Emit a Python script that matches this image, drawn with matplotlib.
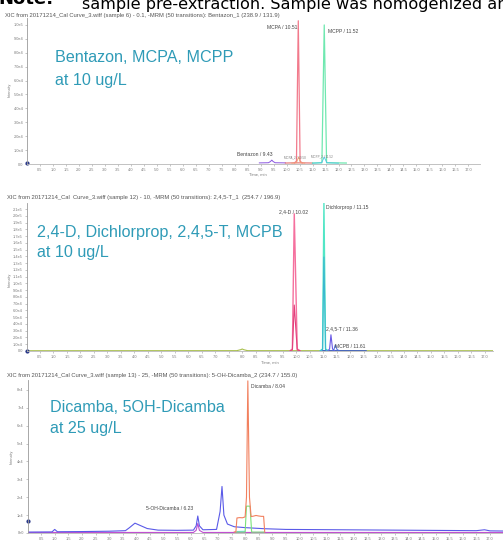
import numpy as np
import matplotlib
matplotlib.use("Agg")
import matplotlib.pyplot as plt

plt.rcParams['font.family'] = ['Liberation Sans', 'DejaVu Sans']

W, H = 503, 540

# ─────────────────────────────────────────────
# Data
# ─────────────────────────────────────────────

# Panel 1: Bentazon, MCPA, MCPP (10 ug/L)
bent_t = [8.95, 9.30, 9.38, 9.43, 9.48, 9.56, 9.95]
bent_i = [800, 900, 1800, 2800, 1800, 900, 800]
mcpa_red_t = [9.95, 10.30, 10.60, 11.00]
mcpa_red_i = [700, 800, 800, 700]
mcpa_t = [10.30, 10.38, 10.45, 10.52, 10.60]
mcpa_i = [800, 2000, 103000, 2000, 800]
mcpa2_t = [10.20, 10.38, 10.46, 10.54, 10.70]
mcpa2_i = [600, 900, 5000, 900, 600]
mcpp_t = [11.00, 11.36, 11.45, 11.54, 12.30]
mcpp_i = [700, 900, 100000, 900, 700]
mcpp2_t = [11.00, 11.35, 11.45, 11.55, 12.00]
mcpp2_i = [600, 900, 5000, 900, 600]

# Panel 2: 2,4-D, Dichlorprop, 2,4,5-T, MCPB (10 ug/L)
base2_t = [0.0, 7.80, 7.95, 8.00, 8.05, 8.20, 17.3]
base2_i = [400, 500, 2000, 3000, 2000, 500, 400]
red2_t = [12.3, 17.3]
red2_i = [300, 300]
d24_t = [9.78, 9.86, 9.93, 10.04, 10.14]
d24_i = [500, 3000, 203000, 3000, 500]
d24b_i = [500, 1500, 68000, 1500, 500]
dcp_t = [10.90, 10.98, 11.03, 11.09, 11.18]
dcp_i = [500, 3000, 219000, 3000, 500]
dcpb_i = [500, 2000, 139000, 2000, 500]
t245_t = [11.18, 11.24, 11.29, 11.35, 11.42]
t245_i = [600, 3000, 24000, 3000, 600]
mcpb_t = [11.35, 11.40, 11.45, 11.52, 11.60]
mcpb_i = [600, 2000, 9000, 2000, 600]
blue2_t = [10.9, 12.6]
blue2_i = [600, 500]

# Panel 3: Dicamba, 5OH-Dicamba (25 ug/L)
blue3_t = [0.0, 0.90, 1.00, 1.10, 2.0, 3.0, 3.60, 3.75, 3.95, 4.10, 4.40, 4.80,
           5.5, 6.10, 6.20, 6.26, 6.32, 6.45, 6.95, 7.08, 7.15, 7.22, 7.35, 7.60,
           8.0, 8.7, 9.5, 10.5, 11.5, 12.5, 13.5, 14.5, 15.5, 16.5, 16.8, 17.0, 17.5]
blue3_i = [500, 600, 2000, 700, 800, 1000, 1300, 3000, 5500, 4500, 2500, 1600,
           1500, 1600, 4000, 9500, 4000, 1800, 2000, 12000, 26000, 10000, 5000, 3500,
           3000, 2400, 2000, 1900, 1800, 1700, 1600, 1500, 1400, 1300, 1800, 1200, 1100]
mag3_t = [0.0, 6.10, 6.20, 6.26, 6.32, 6.45, 17.5]
mag3_i = [300, 300, 1500, 5300, 1500, 300, 300]
dic_t = [7.60, 7.66, 7.70, 7.80, 7.90, 8.00, 8.05, 8.10, 8.16, 8.22, 8.30, 8.40, 8.50, 8.60, 8.68, 8.72]
dic_i = [600, 600, 8400, 8600, 8500, 9000, 20000, 85000, 20000, 9200, 9400, 9800, 9500, 9300, 9300, 600]
green3_t = [7.65, 8.00, 8.05, 8.10, 8.18, 8.24, 8.70]
green3_i = [500, 500, 15000, 15000, 15000, 500, 500]
cyan3_t = [7.70, 8.00]
cyan3_i = [900, 1000]

titles = [
    "XIC from 20171214_Cal Curve_3.wiff (sample 6) - 0.1, -MRM (50 transitions): Bentazon_1 (238.9 / 131.9)",
    "XIC from 20171214_Cal  Curve_3.wiff (sample 12) - 10, -MRM (50 transitions): 2,4,5-T_1  (254.7 / 196.9)",
    "XIC from 20171214_Cal Curve_3.wiff (sample 13) - 25, -MRM (50 transitions): 5-OH-Dicamba_2 (234.7 / 155.0)",
]
big_labels = [
    ("Bentazon, MCPA, MCPP", "at 10 ug/L"),
    ("2,4-D, Dichlorprop, 2,4,5-T, MCPB", "at 10 ug/L"),
    ("Dicamba, 5OH-Dicamba", "at 25 ug/L"),
]

TEAL = '#2f9bb7'
GREY = '#7a7a7a'
BIG = 11.6
TITLE = 4.2

fig = plt.figure(figsize=(W / 100, H / 100), dpi=100)
fig.patch.set_facecolor('white')


def px_axes(left, top, right, bottom):
    return fig.add_axes([left / W, 1 - bottom / H, (right - left) / W, (bottom - top) / H])


def style(ax, xmax, ymax, yticks, ylabels):
    ax.set_xlim(0, xmax)
    ax.set_ylim(0, ymax)
    for s in ['top', 'right']:
        ax.spines[s].set_visible(False)
    ax.spines['left'].set_color('#9a9a9a')
    ax.spines['bottom'].set_color('#b8b8b8')
    ax.spines['left'].set_linewidth(0.6)
    ax.spines['bottom'].set_linewidth(0.6)
    xt = np.arange(0.5, 17.01, 0.5)
    ax.set_xticks(xt)
    ax.set_xticklabels([f"{v:.1f}" for v in xt])
    ax.set_yticks(yticks)
    ax.set_yticklabels(ylabels)
    ax.tick_params(axis='both', labelsize=2.8, labelcolor=GREY, color='#9a9a9a',
                   length=1.5, width=0.4, pad=1.2)
    ax.set_facecolor('none')


def pix_text(x, y, s, **kw):
    fig.text(x / W, 1 - y / H, s, **kw)


# Document text cut off at the top
pix_text(-2, 4.5, "Note:", fontsize=13, fontweight='bold', family='DejaVu Sans', va='baseline')
pix_text(82, 8.5, "sample pre-extraction. Sample was homogenized and", fontsize=11.6,
         family='DejaVu Sans', va='baseline')

# ─────────────────────────────────────────────
# Panel 1
# ─────────────────────────────────────────────
ax1 = px_axes(27, 18, 480, 164)
style(ax1, 17.45, 1.05e5, np.arange(0, 1.01e5, 1e4),
      ["0.0"] + [f"{v}.0e4" for v in range(1, 10)] + ["1.0e5"])
ax1.plot(bent_t, bent_i, color='#8a55e0', lw=0.7)
ax1.plot(mcpa_red_t, mcpa_red_i, color='#e05a5a', lw=0.7)
ax1.plot(mcpa_t, mcpa_i, color='#f27a8c', lw=0.9)
ax1.plot(mcpa2_t, mcpa2_i, color='#f0a070', lw=0.6)
ax1.plot(mcpp_t, mcpp_i, color='#6fe8b0', lw=0.9)
ax1.plot(mcpp2_t, mcpp2_i, color='#4cc4e4', lw=0.6)
ax1.plot([0], [500], 'o', color='#2b3a8a', ms=2, clip_on=False)
ax1.text(10.42, 98500, "MCPA / 10.51", fontsize=3.6, color='#444', ha='right', va='center')
ax1.text(11.58, 95000, "MCPP / 11.52", fontsize=3.6, color='#444', ha='left', va='center')
ax1.text(8.1, 5200, "Bentazon / 9.43", fontsize=3.6, color='#444', ha='left', va='bottom')
ax1.text(9.9, 3500, "MCPA_2 / 10.50", fontsize=2.2, color='#777', ha='left', va='bottom')
ax1.text(10.95, 3800, "MCPP_2 / 11.52", fontsize=2.2, color='#777', ha='left', va='bottom')
pix_text(5, 15, titles[0], fontsize=TITLE, color='#555', va='center')
pix_text(258, 175, "Time, min", fontsize=3.0, color=GREY, ha='center', va='center')
pix_text(10, 90, "Intensity", fontsize=2.8, color=GREY, rotation=90, ha='center', va='center')
pix_text(55, 57, big_labels[0][0], fontsize=BIG, color=TEAL, va='center')
pix_text(55, 80, big_labels[0][1], fontsize=BIG, color=TEAL, va='center')

# ─────────────────────────────────────────────
# Panel 2
# ─────────────────────────────────────────────
ax2 = px_axes(26.5, 203, 493, 351)
ylab2 = ["0.0"] + [f"{v}.0e4" for v in range(1, 10)] + [f"{v / 10:.1f}e5" for v in range(10, 22)]
style(ax2, 17.3, 2.19e5, np.arange(0, 2.11e5, 1e4), ylab2)
ax2.plot(base2_t, base2_i, color='#a8bf4c', lw=0.8)
ax2.plot(red2_t, red2_i, color='#e04848', lw=0.7)
ax2.plot(blue2_t, blue2_i, color='#3a5ac8', lw=0.7)
ax2.plot(d24_t, d24_i, color='#f5709e', lw=1.0)
ax2.plot(d24_t, d24b_i, color='#e2407c', lw=0.8)
ax2.plot(dcp_t, dcp_i, color='#52e6c6', lw=1.0)
ax2.plot(dcp_t, dcpb_i, color='#3ab8d0', lw=0.8)
ax2.plot(t245_t, t245_i, color='#6a5ae6', lw=0.8)
ax2.plot(mcpb_t, mcpb_i, color='#4a6ad8', lw=0.7)
ax2.plot([0], [0], 'o', color='#2b3a8a', ms=2, clip_on=False)
ax2.text(9.9, 202000, "2,4-D / 10.02", fontsize=3.6, color='#444', ha='center', va='bottom')
ax2.text(11.1, 212000, "Dichlorprop / 11.15", fontsize=3.6, color='#444', ha='left', va='center')
ax2.text(11.12, 33000, "2,4,5-T / 11.36", fontsize=3.6, color='#444', ha='left', va='center')
ax2.text(11.45, 7000, "MCPB / 11.61", fontsize=3.6, color='#444', ha='left', va='center')
pix_text(7, 197, titles[1], fontsize=TITLE, color='#555', va='center')
pix_text(270, 363, "Time, min", fontsize=3.0, color=GREY, ha='center', va='center')
pix_text(10, 280, "Intensity", fontsize=2.8, color=GREY, rotation=90, ha='center', va='center')
pix_text(37, 232, big_labels[1][0], fontsize=BIG, color=TEAL, va='center')
pix_text(37, 253, big_labels[1][1], fontsize=BIG, color=TEAL, va='center')

# ─────────────────────────────────────────────
# Panel 3
# ─────────────────────────────────────────────
ax3 = px_axes(27.5, 380, 503, 533)
style(ax3, 17.48, 8.55e4, np.arange(0, 8.1e4, 1e4), ["0e0"] + [f"{v}e4" for v in range(1, 9)])
ax3.plot(mag3_t, mag3_i, color='#c050d0', lw=0.8)
ax3.plot(blue3_t, blue3_i, color='#5a5ae8', lw=0.8)
ax3.plot(cyan3_t, cyan3_i, color='#40c8e0', lw=0.6)
ax3.plot(green3_t, green3_i, color='#7ae27a', lw=0.8)
ax3.plot(dic_t, dic_i, color='#f2805e', lw=0.8)
ax3.plot([0], [6800], 'o', color='#2b3a8a', ms=2, clip_on=False)
ax3.text(8.2, 82000, "Dicamba / 8.04", fontsize=3.6, color='#444', ha='left', va='center')
ax3.text(4.35, 13500, "5-OH-Dicamba / 6.23", fontsize=3.6, color='#444', ha='left', va='center')
pix_text(7, 375, titles[2], fontsize=TITLE, color='#555', va='center')
pix_text(12, 457, "Intensity", fontsize=2.8, color=GREY, rotation=90, ha='center', va='center')
pix_text(50, 407, big_labels[2][0], fontsize=BIG, color=TEAL, va='center')
pix_text(50, 428, big_labels[2][1], fontsize=BIG, color=TEAL, va='center')

fig.savefig("out.png", dpi=100, facecolor='white')
